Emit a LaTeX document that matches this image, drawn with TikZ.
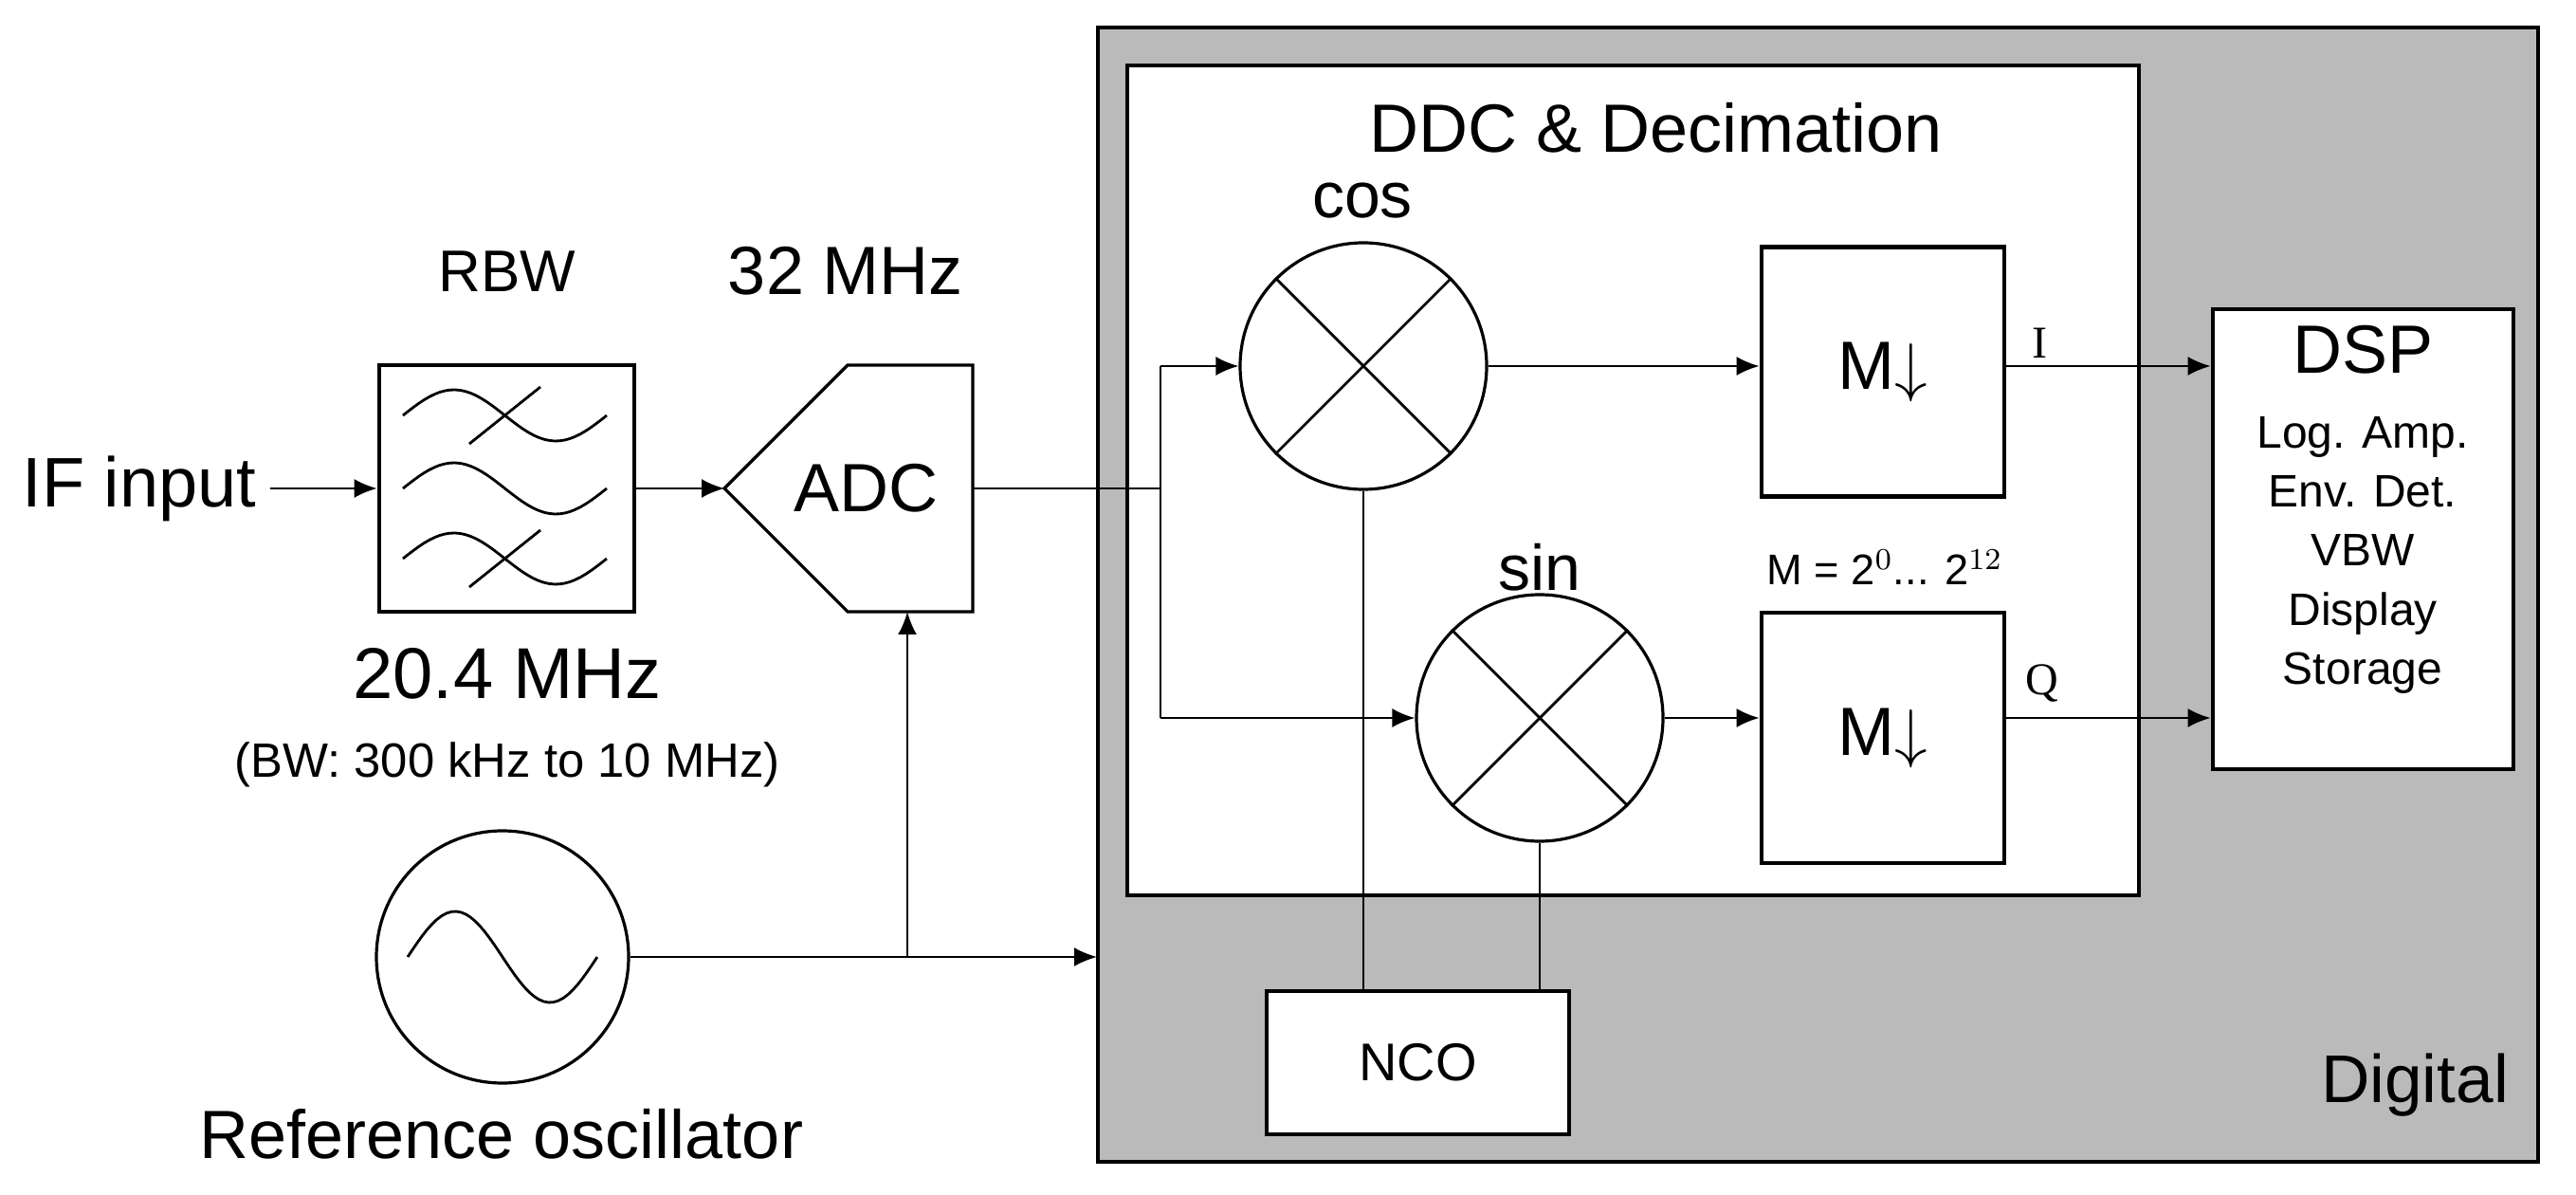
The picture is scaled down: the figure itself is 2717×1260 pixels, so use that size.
\documentclass[tikz,border=0pt]{standalone}
\usepackage{fontspec}
\setmainfont{Liberation Sans}
\newfontfamily\seriff{Liberation Serif}
\usetikzlibrary{arrows.meta}
\newcommand{\fs}[1]{\fontsize{#1}{#1}\selectfont}
\begin{document}
\begin{tikzpicture}[x=0.25pt,y=-0.25pt,
  con/.style={line width=0.6pt,-{Latex[length=6pt,width=5pt]}},
  wire/.style={line width=0.6pt},
  box/.style={draw,line width=1.2pt,fill=white,inner sep=0pt},
  mix/.style={draw,circle,line width=0.8pt,fill=white,minimum size=65pt,inner sep=0pt}]
\useasboundingbox (0,0) rectangle (2717,1260);
% digital area
\draw[line width=1pt,fill=black!27] (1158,29) rectangle (2677,1225);
\draw[line width=1.2pt,fill=white] (1189,69) rectangle (2256,944);
\node[font=\fs{18}] (ddct) at (1747,135) {DDC \& Decimation};
\node[font=\fs{17.8}] (digt) at (2547,1144) {Digital};
% input
\node[font=\fs{18.5}] (ifin) at (147,515) {IF input};
\node[box,minimum width=67.25pt,minimum height=65pt] (rbw) at (534.5,515) {};
\node[font=\fs{15.5}] (rbwt) at (535,286) {RBW};
\node[font=\fs{19}] (f204) at (535,710) {20.4 MHz};
\node[font=\fs{12.7}] (bwt) at (535,806) {(BW: 300 kHz to 10 MHz)};
\foreach \r/\s in {438/1,515/0,589/1}{
  \draw[line width=0.7pt] plot[domain=0:1,samples=40] ({425+215*\x},{\r-27*sin(360*\x)});
  \ifnum\s=1 \draw[line width=0.7pt] (495,\r+30) -- (570,\r-30);\fi}
% ADC
\draw[line width=0.8pt,fill=white] (764,515) -- (894,385) -- (1026,385) -- (1026,645) -- (894,645) -- cycle;
\coordinate (adcin) at (764,515);
\coordinate (adcout) at (1026,515);
\coordinate (adcbot) at (957,645);
\node[font=\fs{18}] (adct) at (913,515) {ADC};
\node[font=\fs{18}] (f32) at (892,286) {32 MHz};
\draw[con] (ifin.east) -- (rbw.west);
\draw[con] (rbw.east) -- (adcin);
% reference osc
\node[draw,circle,line width=0.8pt,minimum size=66.5pt,inner sep=0pt] (ref) at (530,1009) {};
\draw[line width=0.7pt] plot[domain=0:1,samples=40] ({430+200*\x},{1009-48*sin(360*\x)});
\node[font=\fs{18}] (reft) at (529,1196) {Reference oscillator};
\coordinate (refj) at (957,1009);
\coordinate (refend) at (1157,1009);
\draw[con] (ref.east) -- (refend);
\draw[con] (refj) -- (adcbot);
% mixers
\node[mix] (cos) at (1438,386) {};
\node[mix] (sin) at (1624,757) {};
\foreach \m in {cos,sin}{
  \draw[line width=0.7pt] (\m.45) -- (\m.225) (\m.135) -- (\m.315);}
\node[font=\fs{17}] (cost) at (1437,212) {cos};
\node[font=\fs{17}] (sint) at (1624,598) {sin};
\coordinate (jn) at (1224,515);
\draw[wire] (adcout) -- (jn);
\draw[con] (jn |- cos.west) -- (cos.west);
\draw[wire] (jn |- cos.west) -- (jn |- sin.west);
\draw[con] (jn |- sin.west) -- (sin.west);
% decimators
\node[box,minimum width=64pt,minimum height=65.75pt,font=\fs{18}] (m1) at (1986,392) {M$\downarrow$};
\node[box,minimum width=64pt,minimum height=66pt,font=\fs{18}] (m2) at (1986,778) {M$\downarrow$};
\node[font=\fs{11.3}] (mform) at (1988,598) {M = 2$^{0}$... 2$^{12}$};
\draw[con] (cos.east) -- (cos.east -| m1.west);
\draw[con] (sin.east) -- (sin.east -| m2.west);
% DSP
\node[box,minimum width=79.25pt,minimum height=121.25pt] (dsp) at (2492.5,568.5) {};
\node[font=\fs{18}] (dspt) at (2492,369) {DSP};
\node[align=center,font=\fontsize{12}{15.6}\selectfont,anchor=north] (dspl) at (2492,425) {Log. Amp.\\Env. Det.\\VBW\\Display\\Storage};
\draw[con] (cos.east -| m1.east) -- (cos.east -| dsp.west);
\draw[con] (sin.east -| m2.east) -- (sin.east -| dsp.west);
\node[font=\seriff\fs{12}] (it) at (2151,362) {I};
\node[font=\seriff\fs{12}] (qt) at (2154,720) {Q};
% NCO
\node[box,minimum width=79.75pt,minimum height=37.75pt,font=\fs{14}] (nco) at (1495.5,1120.5) {NCO};
\draw[wire] (cos.south) -- (cos.south |- nco.north);
\draw[wire] (sin.south) -- (sin.south |- nco.north);
\end{tikzpicture}
\end{document}
